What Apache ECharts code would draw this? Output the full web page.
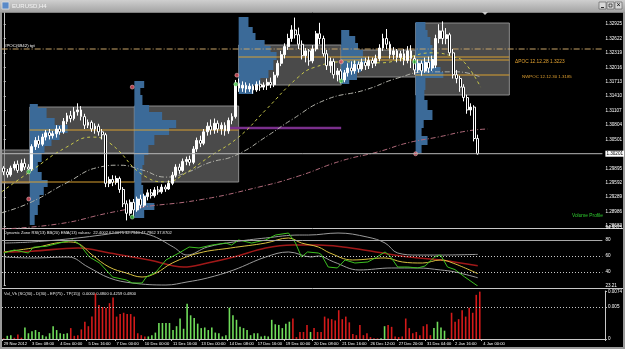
<!DOCTYPE html>
<html><head><meta charset="utf-8">
<script src="https://cdn.jsdelivr.net/npm/echarts@6.0.0/dist/echarts.min.js"></script>
<style>html,body{margin:0;padding:0;background:#000;overflow:hidden}#c{width:625px;height:349px}</style>
</head><body><div id="c"></div>
<script>
// ---------- DATA ----------
const NSLOT = 171; // bar slots on the time axis (incl. chart shift space)
// candles: [open, close, low, high]
const candles = [
[1.2990,1.2982,1.2975,1.2994],[1.2982,1.2976,1.2970,1.2988],[1.2976,1.2990,1.2972,1.2995],[1.2990,1.2998,1.2985,1.3004],
[1.2998,1.2985,1.2980,1.3006],[1.2985,1.3000,1.2982,1.3008],[1.3000,1.2992,1.2986,1.3010],[1.2992,1.2988,1.2979,1.2998],
[1.2988,1.3035,1.2984,1.3040],[1.3035,1.3048,1.3028,1.3055],[1.3048,1.3040,1.3032,1.3058],[1.3040,1.3055,1.3036,1.3062],
[1.3055,1.3064,1.3048,1.3070],[1.3064,1.3058,1.3050,1.3072],[1.3058,1.3062,1.3052,1.3068],[1.3062,1.3072,1.3054,1.3080],
[1.3072,1.3066,1.3060,1.3078],[1.3066,1.3088,1.3062,1.3095],[1.3088,1.3100,1.3082,1.3106],[1.3100,1.3094,1.3086,1.3110],
[1.3094,1.3108,1.3090,1.3118],[1.3108,1.3112,1.3100,1.3126],[1.3112,1.3098,1.3090,1.3120],[1.3098,1.3080,1.3072,1.3104],
[1.3080,1.3086,1.3074,1.3092],[1.3086,1.3072,1.3066,1.3090],[1.3072,1.3078,1.3062,1.3084],[1.3078,1.3066,1.3058,1.3083],
[1.3066,1.3060,1.3050,1.3072],[1.3060,1.2958,1.2950,1.3064],[1.2958,1.2966,1.2950,1.2972],[1.2966,1.2960,1.2952,1.2975],
[1.2960,1.2968,1.2955,1.2974],[1.2968,1.2945,1.2938,1.2972],[1.2945,1.2915,1.2908,1.2950],[1.2915,1.2895,1.2880,1.2922],
[1.2895,1.2918,1.2890,1.2924],[1.2918,1.2902,1.2886,1.2925],[1.2902,1.2925,1.2898,1.2930],[1.2925,1.2912,1.2905,1.2934],
[1.2912,1.2930,1.2908,1.2936],[1.2930,1.2938,1.2922,1.2945],[1.2938,1.2932,1.2926,1.2946],[1.2932,1.2944,1.2928,1.2950],
[1.2944,1.2940,1.2934,1.2952],[1.2940,1.2950,1.2936,1.2956],[1.2950,1.2946,1.2940,1.2955],[1.2946,1.2958,1.2944,1.2964],
[1.2958,1.2975,1.2954,1.2982],[1.2975,1.2992,1.2970,1.2998],[1.2992,1.2985,1.2978,1.2999],[1.2985,1.3004,1.2982,1.3010],
[1.3004,1.3008,1.2996,1.3014],[1.3008,1.3002,1.2995,1.3016],[1.3002,1.3030,1.2998,1.3036],[1.3030,1.3048,1.3024,1.3054],
[1.3048,1.3042,1.3034,1.3058],[1.3042,1.3066,1.3038,1.3072],[1.3066,1.3078,1.3058,1.3086],[1.3078,1.3070,1.3060,1.3092],
[1.3070,1.3084,1.3062,1.3094],[1.3084,1.3072,1.3064,1.3090],[1.3072,1.3080,1.3060,1.3086],[1.3080,1.3068,1.3058,1.3086],
[1.3068,1.3090,1.3062,1.3096],[1.3090,1.3098,1.3082,1.3105],[1.3098,1.3168,1.3094,1.3175],[1.3168,1.3158,1.3150,1.3178],
[1.3158,1.3164,1.3150,1.3172],[1.3164,1.3156,1.3148,1.3170],[1.3156,1.3162,1.3150,1.3168],[1.3162,1.3154,1.3146,1.3166],
[1.3154,1.3166,1.3150,1.3172],[1.3166,1.3160,1.3152,1.3174],[1.3160,1.3164,1.3154,1.3170],[1.3164,1.3170,1.3154,1.3178],
[1.3170,1.3165,1.3158,1.3180],[1.3165,1.3185,1.3160,1.3192],[1.3185,1.3210,1.3180,1.3216],[1.3210,1.3228,1.3204,1.3236],
[1.3228,1.3245,1.3220,1.3252],[1.3245,1.3262,1.3238,1.3272],[1.3262,1.3280,1.3255,1.3290],[1.3280,1.3270,1.3262,1.3306],
[1.3270,1.3250,1.3240,1.3285],[1.3250,1.3226,1.3218,1.3258],[1.3226,1.3236,1.3212,1.3242],[1.3236,1.3215,1.3205,1.3240],
[1.3215,1.3240,1.3210,1.3248],[1.3240,1.3272,1.3235,1.3278],[1.3272,1.3262,1.3250,1.3295],[1.3262,1.3230,1.3224,1.3268],
[1.3230,1.3205,1.3196,1.3238],[1.3205,1.3214,1.3190,1.3222],[1.3214,1.3186,1.3178,1.3220],[1.3186,1.3194,1.3172,1.3200],
[1.3194,1.3175,1.3168,1.3198],[1.3175,1.3190,1.3170,1.3196],[1.3190,1.3200,1.3182,1.3210],[1.3200,1.3194,1.3186,1.3214],
[1.3194,1.3208,1.3188,1.3216],[1.3208,1.3198,1.3190,1.3214],[1.3198,1.3212,1.3194,1.3220],[1.3212,1.3205,1.3196,1.3222],
[1.3205,1.3216,1.3198,1.3224],[1.3216,1.3210,1.3200,1.3222],[1.3210,1.3220,1.3204,1.3228],[1.3220,1.3242,1.3214,1.3250],
[1.3242,1.3262,1.3236,1.3272],[1.3262,1.3250,1.3240,1.3282],[1.3250,1.3228,1.3220,1.3256],[1.3228,1.3236,1.3218,1.3244],
[1.3236,1.3222,1.3212,1.3240],[1.3222,1.3230,1.3214,1.3236],[1.3230,1.3216,1.3206,1.3240],[1.3216,1.3236,1.3210,1.3246],
[1.3236,1.3220,1.3200,1.3248],[1.3220,1.3196,1.3186,1.3226],[1.3196,1.3210,1.3190,1.3218],[1.3210,1.3194,1.3184,1.3216],
[1.3194,1.3212,1.3190,1.3222],[1.3212,1.3200,1.3190,1.3224],[1.3200,1.3218,1.3194,1.3226],[1.3206,1.3262,1.3200,1.3270],
[1.3262,1.3278,1.3252,1.3292],[1.3278,1.3262,1.3250,1.3298],[1.3262,1.3270,1.3250,1.3284],[1.3270,1.3232,1.3226,1.3274],
[1.3232,1.3186,1.3178,1.3240],[1.3186,1.3178,1.3168,1.3196],[1.3178,1.3160,1.3150,1.3184],[1.3160,1.3138,1.3130,1.3166],
[1.3138,1.3112,1.3104,1.3144],[1.3112,1.3118,1.3100,1.3126],[1.3118,1.3052,1.3046,1.3122],[1.3052,1.3020,1.3018,1.3060]
];
const bidPrice = 1.30201;
const priceTicks = [1.32925,1.32622,1.32319,1.32016,1.31713,1.31410,1.31107,1.30804,1.30501,1.29895,1.29592,1.29289,1.28986,1.28683];
const timeLabels = ['29 Nov 2012','3 Dec 08:00','4 Dec 00:00','5 Dec 16:00','7 Dec 00:00','10 Dec 00:00','11 Dec 16:00','13 Dec 00:00','14 Dec 08:00','17 Dec 16:00','19 Dec 00:00','20 Dec 08:00','21 Dec 16:00','26 Dec 12:00','27 Dec 20:00','31 Dec 04:00','2 Jan 16:00','4 Jan 00:00'];
const timeLabelIdx = [0,8,16,24,32,40,48,56,64,72,80,88,96,104,112,120,128,136];

// moving averages on price, [barIndex, price]
const maFast = [[-0.6,1.2940],[7.4,1.2982],[17.9,1.3034],[25.3,1.3055],[30.1,1.3043],[40.6,1.2971],[46.2,1.2961],[51.9,1.2980],[58.4,1.3013],[66.9,1.3055],[74.6,1.3112],[83.9,1.3181],[88.7,1.3202],[97.2,1.3213],[107.4,1.3211],[114.2,1.3221],[122.1,1.3232],[128.4,1.3223],[131.3,1.3211],[135.8,1.3160]];
const maMid = [[-0.6,1.2896],[7.4,1.2917],[17.9,1.2959],[27.3,1.2992],[32.9,1.2996],[39.4,1.2986],[46.2,1.2971],[51.9,1.2980],[58.4,1.3001],[66.1,1.3017],[75.4,1.3059],[81.9,1.3091],[91.6,1.3133],[102.9,1.3154],[112.2,1.3179],[120.7,1.3192],[129.2,1.3192],[135.8,1.3181]];
const maSlow = [[-0.6,1.2862],[15.9,1.2873],[30.1,1.2896],[39.4,1.2908],[55.6,1.2923],[72.6,1.2950],[83.9,1.2973],[96.1,1.3005],[106.6,1.3024],[115.1,1.3043],[123.6,1.3055],[132.1,1.3068],[137.7,1.3072]];

// volume profiles: start bar, rows [priceTop, priceBottom, length in bars]
const profileStarts = [7.4, 37.2, 66.9, 96.1, 117.3];
const profile1 = [[1.31245,1.31161,2.3],[1.31161,1.30951,4.8],[1.30951,1.30804,7.1],[1.30804,1.30636,10.8],[1.30636,1.30489,8.5],[1.30489,1.30363,6.2],[1.30363,1.30216,4.2],[1.30216,1.30027,3.4],[1.30027,1.29817,2.3],[1.29817,1.29649,3.4],[1.29649,1.29502,5.1],[1.29502,1.29334,4.0],[1.29334,1.29124,2.8],[1.29124,1.28914,2.3],[1.28914,1.28704,1.4]];
const profile2 = [[1.31728,1.31581,2.8],[1.31581,1.31434,1.7],[1.31434,1.31224,2.3],[1.31224,1.31077,4.2],[1.31077,1.30909,7.9],[1.30909,1.30741,11.9],[1.30741,1.30594,9.9],[1.30594,1.30384,5.7],[1.30384,1.30174,4.0],[1.30174,1.29964,2.8],[1.29964,1.29754,2.3],[1.29754,1.29544,2.0],[1.29544,1.29334,2.5],[1.29334,1.29166,3.4],[1.29166,1.29019,5.7],[1.29019,1.28851,2.8]];
const profile3 = [[1.33072,1.32862,2.8],[1.32862,1.32736,4.0],[1.32736,1.32589,4.8],[1.32589,1.32463,7.4],[1.32463,1.32337,9.1],[1.32337,1.32169,10.8],[1.32169,1.31959,9.9],[1.31959,1.31791,8.5],[1.31791,1.31644,6.2],[1.31644,1.31455,4.2]];
const profile4 = [[1.32799,1.32673,2.3],[1.32673,1.32526,4.0],[1.32526,1.32379,4.8],[1.32379,1.32232,6.2],[1.32232,1.32085,6.8],[1.32085,1.31917,5.7],[1.31917,1.31749,4.5],[1.31749,1.31665,2.3]];
const profile5 = [[1.32967,1.32799,2.8],[1.32799,1.32652,3.4],[1.32652,1.32484,4.2],[1.32484,1.32274,4.8],[1.32274,1.32127,5.7],[1.32127,1.32022,4.5],[1.32022,1.31917,7.1],[1.31917,1.31791,7.9],[1.31791,1.31539,2.8],[1.31539,1.31329,2.5],[1.31329,1.31119,3.4],[1.31119,1.30909,4.8],[1.30909,1.30741,2.3],[1.30741,1.30573,1.7],[1.30573,1.30384,3.4],[1.30384,1.30216,1.7]];
// value area boxes: [fromBar, toBar, priceLow, priceHigh]
const valueAreas = [[-0.6,7.4,1.29586,1.30279],[7.4,37.2,1.30216,1.31182],[37.2,66.9,1.29607,1.31203],[66.9,96.1,1.31644,1.32484],[96.1,117.3,1.31812,1.32379],[117.3,144,1.31434,1.32946]];
// POC lines: [fromBar, toBar, price]
const pocLines = [[-0.6,37.2,1.29607],[7.4,66.9,1.30699],[66.9,144,1.32232],[96.1,144,1.32169],[117.3,144,1.31854]];
const nakedPoc = [64.1, 96.1, 1.30741];
const targetLevel = 1.32400;
const redMarks = [[7.1,1.2925],[36.6,1.3160],[66.4,1.3185],[96.1,1.3213],[117.3,1.3020]];
const greenMarks = [[7.1,1.2982],[36.6,1.2887],[66.1,1.3166],[96.1,1.3173],[117.0,1.3213]];

// Dynamic Zone RSI pane, [barIndex, value]
const rsiLine = [[0,63.7],[3,67.5],[7,63.7],[8.5,71],[12,72],[15.9,76.2],[19.6,80],[21.5,75],[24.4,58.7],[27.3,51.2],[31,33.7],[34.9,30],[36.6,26.2],[39.4,26.2],[40.6,33.7],[43.4,40],[46.2,55],[49.9,63.7],[52.8,71.2],[55.6,70],[59.3,73.7],[63.2,76.2],[64.9,73.7],[66.9,80],[70.6,76.2],[74.6,80],[77.4,86.2],[81.1,88.7],[83.1,76.2],[84.8,58.7],[86.5,65],[89.6,63.7],[90.4,62],[92.4,46.2],[95,45],[97.2,55],[100,51.2],[103.7,52.5],[106,58],[108.6,65],[110,60],[112.2,46.2],[115.1,46.2],[117.9,45],[120,47.5],[122.7,58.7],[124.4,61.2],[126.4,46.2],[128.5,43],[131.3,33.7],[135,22.4]];
const rsiEma = [[0,65],[8.3,70],[18.4,77.5],[21,76],[25.2,61.2],[30,46.2],[34.9,38.7],[39.4,33.7],[43.4,38.7],[48,51.2],[55.6,63.7],[64.6,70],[74.6,76.2],[81.1,82.5],[84.8,76.2],[89.6,71.2],[92.9,63.7],[99.3,55],[108.6,57.5],[113.5,52.5],[119.3,51.2],[124.4,55],[128,51],[135,37.9]];
const bbMid = [[0,65],[8,66],[21.3,70],[30.1,63.7],[41.4,55],[51.2,46.2],[58,51.2],[65.5,58.7],[74.6,70],[82.3,73.7],[89.6,73.7],[96.6,71.2],[106,65],[115.5,58.7],[124.4,55],[135,47.8]];
const bbUp = [[0,76.2],[8,77.5],[21,82.5],[27.8,86.2],[35.2,90],[41.7,86.2],[48.3,71.2],[52.2,61.2],[58,71.2],[65.5,77.5],[74.6,82.5],[84.3,86.2],[86.8,86.2],[95.2,88.7],[103.5,83.7],[108.6,76.2],[112.2,63.7],[117.9,61.2],[124.4,61.2],[135,62]];
const bbLow = [[0,58.7],[8,57.5],[18.4,58.7],[24,46.2],[30.1,32.5],[36.6,26.2],[46.2,23.7],[52.2,27.5],[58,32.5],[65.5,42.5],[74.6,58.7],[81.1,65],[87.6,58.7],[89.6,60],[94,52.5],[101.2,42.5],[110.5,45],[117.9,45],[124.4,42.5],[128.5,40],[135,32.8]];
const rsiTicks = [94.9825, 80, 60, 40, 23.21];
const rsiTickText = ['94.9825','80','60','40','23.21'];

// Vol_Vh pane (units of 0.0001)
const volValues = [1,5,6,2,7,2,18,9,12,14,11,6,4,9,20,14,9,8,9,17,5,6,15,27,20,35,71,53,50,49,56,65,35,39,41,39,39,35,9,6,4,4,6,10,25,25,25,25,14,20,32,16,55,37,33,24,17,18,14,18,10,9,4,6,49,37,30,19,17,14,6,9,9,4,5,4,30,23,22,17,24,27,32,3,11,11,22,11,17,11,11,35,32,31,29,45,31,35,26,8,6,22,6,9,3,1,1,1,20,22,19,4,3,4,32,17,9,11,6,20,23,6,17,27,18,13,1,41,27,31,45,35,49,41,69,74];
const volColors = 'RGGRRRGGGGGGGGGGGGGRRRRRRRRRRRRRRRRRRRRRRGGGGGGGGGGGGGGGGGGGGGGGGGGGGGGGGGGGGGGGGGRRRRRGRRRRRRRRRRRRRRRRRRRGGRRRRRRRRRRRRRGGGGRRRRRRRRR';
const volTicks = [74, 50, 0];
const volTickText = ['0.0074', '0.005', '0'];

// ---------- CHART ----------
const slots = Array.from({length: NSLOT}, (_, i) => String(i));
const FONT = 'Liberation Sans';
const profileData = [];
[profile1, profile2, profile3, profile4, profile5].forEach((rows, k) => {
  rows.forEach(r => profileData.push([profileStarts[k], r[0], r[1], r[2]]));
});
const lineSeries = (data, color, type, xi, yi, width, smooth) => ({
  type: 'line', data, xAxisIndex: xi, yAxisIndex: yi, showSymbol: false, smooth: smooth,
  lineStyle: {color, width: width || 1, type: type}, silent: true, z: 3
});

const series = [];
series.push({
  type: 'custom', xAxisIndex: 1, yAxisIndex: 0, z: 1, clip: true, silent: true,
  renderItem: (params, api) => {
    const a = api.coord([api.value(0), api.value(3)]);
    const b = api.coord([api.value(1), api.value(2)]);
    return {type: 'rect', shape: {x: a[0], y: a[1], width: b[0] - a[0], height: b[1] - a[1]},
      style: {fill: 'rgba(120,120,120,0.62)', stroke: 'rgba(150,150,150,0.9)', lineWidth: 1}};
  },
  data: valueAreas
});
series.push({
  type: 'custom', xAxisIndex: 1, yAxisIndex: 0, z: 2, clip: true, silent: true,
  renderItem: (params, api) => {
    const a = api.coord([api.value(0), api.value(1)]);
    const b = api.coord([api.value(0) + api.value(3), api.value(2)]);
    return {type: 'rect', shape: {x: a[0], y: a[1], width: b[0] - a[0], height: Math.max(1, b[1] - a[1])},
      style: {fill: '#3b6a98'}};
  },
  data: profileData
});
pocLines.forEach(l => series.push(lineSeries([[l[0], l[2]], [l[1], l[2]]], '#d9a030', 'solid', 1, 0, 1)));
series.push(lineSeries([[nakedPoc[0], nakedPoc[2]], [nakedPoc[1], nakedPoc[2]]], '#7a2f8c', 'solid', 1, 0, 2.5));
series.push(lineSeries([[-0.6, targetLevel], [170.5, targetLevel]], '#c8a468', [6, 2, 1, 2], 1, 0, 1));
series.push(lineSeries(maSlow, '#b06a7a', [5, 2, 1, 2], 1, 0, 1, true));
series.push(lineSeries(maMid, '#b0b0a8', [5, 2, 1, 2], 1, 0, 1, true));
series.push(lineSeries(maFast, '#c8c84a', [3, 3], 1, 0, 1, true));
// bid line with price tag
series.push(Object.assign(lineSeries([[-0.5, bidPrice], [NSLOT - 0.5, bidPrice]], '#b8b8b8', 'solid', 1, 0, 1), {
  z: 6, clip: false,
  endLabel: {show: true, formatter: bidPrice.toFixed(5), backgroundColor: '#ffffff', color: '#000', fontSize: 4.6, fontFamily: FONT, padding: [1, 1, 0, 1], distance: 3}
}));
series.push({
  type: 'candlestick', xAxisIndex: 0, yAxisIndex: 0, z: 4, data: candles, barWidth: 2.4, silent: true,
  itemStyle: {color: '#ffffff', color0: '#000000', borderColor: '#ffffff', borderColor0: '#ffffff', borderWidth: 1}
});
series.push({type: 'scatter', xAxisIndex: 1, yAxisIndex: 0, z: 5, data: redMarks, symbolSize: 4, silent: true,
  itemStyle: {color: '#e05060', borderColor: '#ffd0d0', borderWidth: 0.6}});
series.push({type: 'scatter', xAxisIndex: 1, yAxisIndex: 0, z: 5, data: greenMarks, symbolSize: 4, silent: true,
  itemStyle: {color: '#40c040', borderColor: '#d0ffd0', borderWidth: 0.6}});
// RSI pane
series.push(Object.assign(lineSeries(bbUp, '#9a9a9a', 'solid', 2, 1, 1, 0.4), {
  markLine: {symbol: 'none', silent: true, animation: false, label: {show: false},
    data: [{yAxis: 80, lineStyle: {color: '#a8a8a8', type: 'solid', width: 1}},
           {yAxis: 60, lineStyle: {color: '#c8c8c8', type: [1, 2], width: 1}},
           {yAxis: 40, lineStyle: {color: '#c8c8c8', type: [1, 2], width: 1}}]}
}));
series.push(lineSeries(bbLow, '#9a9a9a', 'solid', 2, 1, 1, 0.4));
series.push(lineSeries(bbMid, '#a01818', 'solid', 2, 1, 1.6, 0.4));
series.push(lineSeries(rsiEma, '#d8c040', 'solid', 2, 1, 1, 0.4));
series.push(lineSeries(rsiLine, '#3cc020', 'solid', 2, 1, 1, false));
// volume pane
series.push({
  type: 'bar', xAxisIndex: 3, yAxisIndex: 2, barWidth: 1.6, silent: true,
  data: volValues.map((v, i) => ({value: v, itemStyle: {color: volColors[i] === 'G' ? '#6fdc5a' : '#d41a1a'}})),
  markLine: {symbol: 'none', silent: true, animation: false, label: {show: false},
    lineStyle: {color: '#c8c8c8', type: [1, 2], width: 1}, data: [{yAxis: 50}]}
});

const hiddenX = (gi, type) => Object.assign({gridIndex: gi, show: false}, type === 'category'
  ? {type: 'category', data: slots, boundaryGap: true}
  : {type: 'value', min: -0.5, max: NSLOT - 0.5});
const axisLineStyle = {show: true, lineStyle: {color: '#c8c8c8', width: 1}};
const yLabel = {color: '#ffffff', fontSize: 4.6, fontFamily: FONT, margin: 3};

const option = {
  backgroundColor: '#000000',
  animation: false,
  grid: [
    {left: 2, top: 13, width: 603, height: 216},
    {left: 2, top: 228, width: 603, height: 57.4},
    {left: 2, top: 291, width: 603, height: 48}
  ],
  xAxis: [
    hiddenX(0, 'category'), hiddenX(0, 'value'), hiddenX(1, 'value'),
    {type: 'category', gridIndex: 2, data: slots, boundaryGap: true,
     axisLine: axisLineStyle,
     axisTick: {show: true, interval: (i) => timeLabelIdx.includes(i), length: 2, lineStyle: {color: '#c8c8c8'}},
     axisLabel: {interval: (i) => timeLabelIdx.includes(i), formatter: (v) => timeLabels[timeLabelIdx.indexOf(Number(v))] || '',
       color: '#ffffff', fontSize: 4.1, fontFamily: FONT, align: 'left', margin: 3, hideOverlap: false}}
  ],
  yAxis: [
    {type: 'value', gridIndex: 0, min: 1.28620, max: 1.33156, position: 'right', splitLine: {show: false},
     axisLine: axisLineStyle,
     axisTick: {show: true, customValues: priceTicks, length: 2, lineStyle: {color: '#c8c8c8'}},
     axisLabel: Object.assign({customValues: priceTicks, formatter: v => v.toFixed(5)}, yLabel)},
    {type: 'value', gridIndex: 1, min: 23.21, max: 94.9825, position: 'right', splitLine: {show: false},
     axisLine: axisLineStyle,
     axisTick: {show: true, customValues: rsiTicks, length: 2, lineStyle: {color: '#c8c8c8'}},
     axisLabel: Object.assign({customValues: rsiTicks, formatter: v => rsiTickText[rsiTicks.indexOf(v)] || ''}, yLabel)},
    {type: 'value', gridIndex: 2, min: 0, max: 75, position: 'right', splitLine: {show: false},
     axisLine: axisLineStyle,
     axisTick: {show: true, customValues: volTicks, length: 2, lineStyle: {color: '#c8c8c8'}},
     axisLabel: Object.assign({customValues: volTicks, formatter: v => volTickText[volTicks.indexOf(v)] || ''}, yLabel)}
  ],
  series: series,
  graphic: [
    {type: 'rect', shape: {x: 0, y: 0, width: 625, height: 12}, style: {fill: new echarts.graphic.LinearGradient(0, 0, 0, 1, [{offset: 0, color: '#cfcfcf'}, {offset: 1, color: '#a4a4a4'}])}, silent: true},
    {type: 'rect', shape: {x: 2, y: 2, width: 7, height: 7}, style: {fill: '#5a8ac8', stroke: '#e0e0e0', lineWidth: 0.8}, silent: true},
    {type: 'text', x: 12, y: 6, style: {text: 'EURUSD,H4', fill: '#f4f4f4', font: '6px ' + FONT, verticalAlign: 'middle'}, silent: true},
    {type: 'rect', shape: {x: 599, y: 2, width: 7, height: 7}, style: {fill: '#d8d8d8', stroke: '#555', lineWidth: 0.6}, silent: true},
    {type: 'rect', shape: {x: 607, y: 2, width: 7, height: 7}, style: {fill: '#d8d8d8', stroke: '#555', lineWidth: 0.6}, silent: true},
    {type: 'rect', shape: {x: 615, y: 2, width: 7, height: 7}, style: {fill: '#d8d8d8', stroke: '#555', lineWidth: 0.6}, silent: true},
    {type: 'text', x: 618.5, y: 5.5, style: {text: '×', fill: '#000', font: '7px ' + FONT, align: 'center', verticalAlign: 'middle'}, silent: true},
    {type: 'rect', shape: {x: 609, y: 4, width: 3, height: 3}, style: {fill: 'none', stroke: '#000', lineWidth: 0.6}, silent: true},
    {type: 'line', shape: {x1: 601, y1: 7.5, x2: 604, y2: 7.5}, style: {stroke: '#000', lineWidth: 0.8}, silent: true},
    {type: 'rect', shape: {x: 0, y: 12, width: 2, height: 337}, style: {fill: '#9a9a9a'}, silent: true},
    {type: 'rect', shape: {x: 623, y: 12, width: 2, height: 337}, style: {fill: '#9a9a9a'}, silent: true},
    {type: 'rect', shape: {x: 0, y: 347, width: 625, height: 2}, style: {fill: '#9a9a9a'}, silent: true},
    {type: 'line', shape: {x1: 2, y1: 12.5, x2: 623, y2: 12.5}, style: {stroke: '#808080', lineWidth: 1}, silent: true},
    {type: 'line', shape: {x1: 2, y1: 228.5, x2: 623, y2: 228.5}, style: {stroke: '#c8c8c8', lineWidth: 1}, silent: true},
    {type: 'line', shape: {x1: 2, y1: 288.5, x2: 623, y2: 288.5}, style: {stroke: '#c8c8c8', lineWidth: 1}, silent: true},
    {type: 'polygon', shape: {points: [[482, 12], [488, 12], [485, 15]]}, style: {fill: '#c8c8c8'}, silent: true},
    {type: 'text', x: 4, y: 44, style: {text: '#POC(6942) tgt', fill: '#ffffff', font: '4.4px ' + FONT}, silent: true},
    {type: 'text', x: 515, y: 59, style: {text: 'ΔPOC 12.12.28 1.3223', fill: '#e0a030', font: '4.8px ' + FONT}, silent: true},
    {type: 'text', x: 522, y: 75, style: {text: 'NWPOC 12.12.30 1.3185', fill: '#e0a030', font: '4.4px ' + FONT}, silent: true},
    {type: 'text', x: 572, y: 213, style: {text: 'Volume Profile', fill: '#2fd02f', font: '4.8px ' + FONT}, silent: true},
    {type: 'text', x: 4, y: 231, style: {text: 'Dynamic Zone RSI(13) BB(20) EMA(13) values:  22.4002 62.0075 32.7940 47.7962 37.8702', fill: '#e8e8e8', font: '4.1px ' + FONT}, silent: true},
    {type: 'text', x: 4, y: 292, style: {text: 'Vol_Vh (SC(30) - D(30) - EP(75) - TP(15))  0.0000 0.4800 0.4259 0.4800', fill: '#e8e8e8', font: '4.1px ' + FONT}, silent: true}
  ]
};
const chart = echarts.init(document.getElementById('c'), null, {renderer: 'canvas'});
chart.setOption(option);
</script>
</body></html>
